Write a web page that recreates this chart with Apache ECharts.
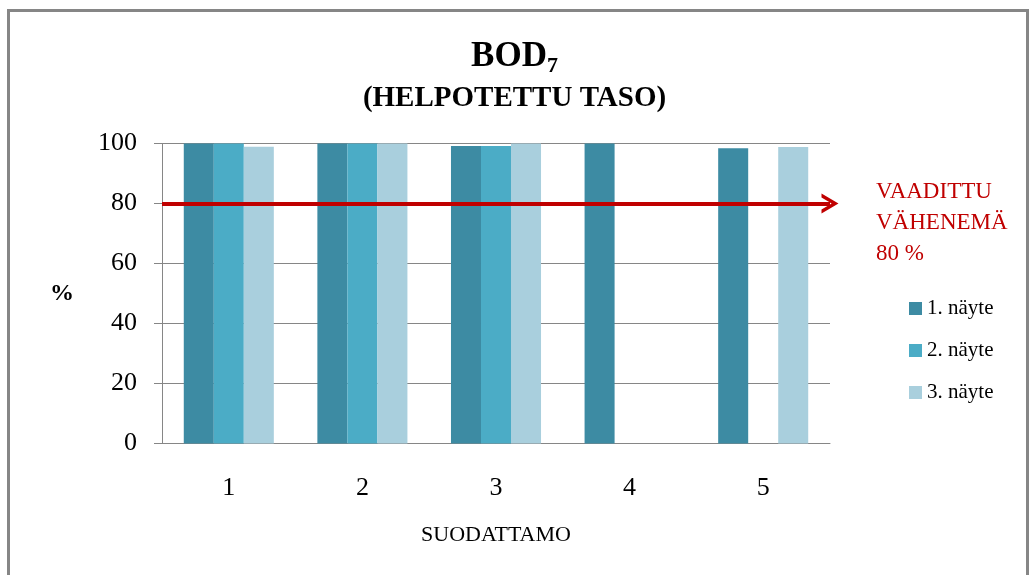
<!DOCTYPE html>
<html>
<head>
<meta charset="utf-8">
<script src="https://cdn.jsdelivr.net/npm/echarts@6/dist/echarts.min.js"></script>
<style>
  html, body { margin: 0; padding: 0; background: #fff; }
  #chart { width: 1029px; height: 575px; }
</style>
</head>
<body>
<div id="chart"></div>
<script>
// data
const categories = ['1', '2', '3', '4', '5'];
const seriesNames = ['1. näyte', '2. näyte', '3. näyte'];
const sample1 = [100, 100, 99.2, 100, 98.4];
const sample2 = [100, 100, 99.2, null, null];
const sample3 = [98.9, 100, 100, null, 98.8];
const requiredLevel = 80;
const yTicks = { min: 0, max: 100, interval: 20 };

const serif = '"Liberation Serif", "DejaVu Serif", serif';
const colors = ['#3d8ba3', '#4bacc6', '#a9cfdd'];

let chart = echarts.init(document.getElementById('chart'));
let option = {
  animation: false,
  color: colors,
  title: [
    {
      text: '{a|BOD}{b|7}',
      left: 'center',
      top: 32,
      textStyle: {
        rich: {
          a: { fontFamily: serif, fontSize: 35, fontWeight: 'bold', color: '#000', lineHeight: 40 },
          b: { fontFamily: serif, fontSize: 22, fontWeight: 'bold', color: '#000', lineHeight: 22, verticalAlign: 'bottom' }
        }
      }
    },
    {
      text: '(HELPOTETTU TASO)',
      left: 'center',
      top: 79,
      textStyle: { fontFamily: serif, fontSize: 29, fontWeight: 'bold', color: '#000' }
    }
  ],
  // kehys
  graphic: [
    {
      type: 'rect',
      left: 6,
      top: 8,
      shape: { width: 1019, height: 600 },
      style: { fill: 'none', stroke: '#868686', lineWidth: 3 },
      silent: true
    }
  ],
  legend: {
    orient: 'vertical',
    left: 904,
    top: 293,
    itemWidth: 13,
    itemHeight: 13,
    itemGap: 21,
    icon: 'rect',
    data: seriesNames,
    textStyle: { fontFamily: serif, fontSize: 21, color: '#000' }
  },
  grid: {
    left: 162,
    right: 199,
    top: 143.5,
    bottom: 131.5,
    containLabel: false
  },
  xAxis: {
    type: 'category',
    data: categories,
    name: 'SUODATTAMO',
    nameLocation: 'middle',
    nameGap: 81,
    nameTextStyle: { fontFamily: serif, fontSize: 22, color: '#000' },
    axisLine: { lineStyle: { color: '#868686', width: 1 } },
    axisTick: { length: 9, lineStyle: { color: '#868686' } },
    axisLabel: { fontFamily: serif, fontSize: 26, color: '#000', margin: 32 }
  },
  yAxis: {
    type: 'value',
    min: yTicks.min,
    max: yTicks.max,
    interval: yTicks.interval,
    name: '%',
    nameLocation: 'middle',
    nameRotate: 0,
    nameGap: 88,
    nameTextStyle: { fontFamily: serif, fontSize: 24, fontWeight: 'bold', color: '#000' },
    axisLine: { show: true, lineStyle: { color: '#868686', width: 1 } },
    axisTick: { show: true, length: 8, lineStyle: { color: '#868686' } },
    axisLabel: { fontFamily: serif, fontSize: 26, color: '#000', margin: 25 },
    splitLine: { lineStyle: { color: '#868686', width: 1 } }
  },
  series: [
    {
      name: seriesNames[0],
      type: 'bar',
      data: sample1,
      barGap: '0%',
      barCategoryGap: '32.6%',
      markLine: {
        silent: true,
        // avoin nuolenkärki
        symbol: ['none', 'path://M0,10 L10,0 L20,10 L16,10 L10,4 L4,10 Z'],
        symbolSize: [20, 17],
        lineStyle: { color: '#c00000', width: 4, type: 'solid' },
        label: {
          show: true,
          position: 'end',
          distance: 46,
          offset: [0, 19],
          formatter: 'VAADITTU\nVÄHENEMÄ\n80 %',
          fontFamily: serif,
          fontSize: 23,
          lineHeight: 31,
          color: '#c00000',
          align: 'left'
        },
        data: [{ yAxis: requiredLevel }]
      }
    },
    { name: seriesNames[1], type: 'bar', data: sample2 },
    { name: seriesNames[2], type: 'bar', data: sample3 }
  ]
};
chart.setOption(option);
</script>
</body>
</html>
